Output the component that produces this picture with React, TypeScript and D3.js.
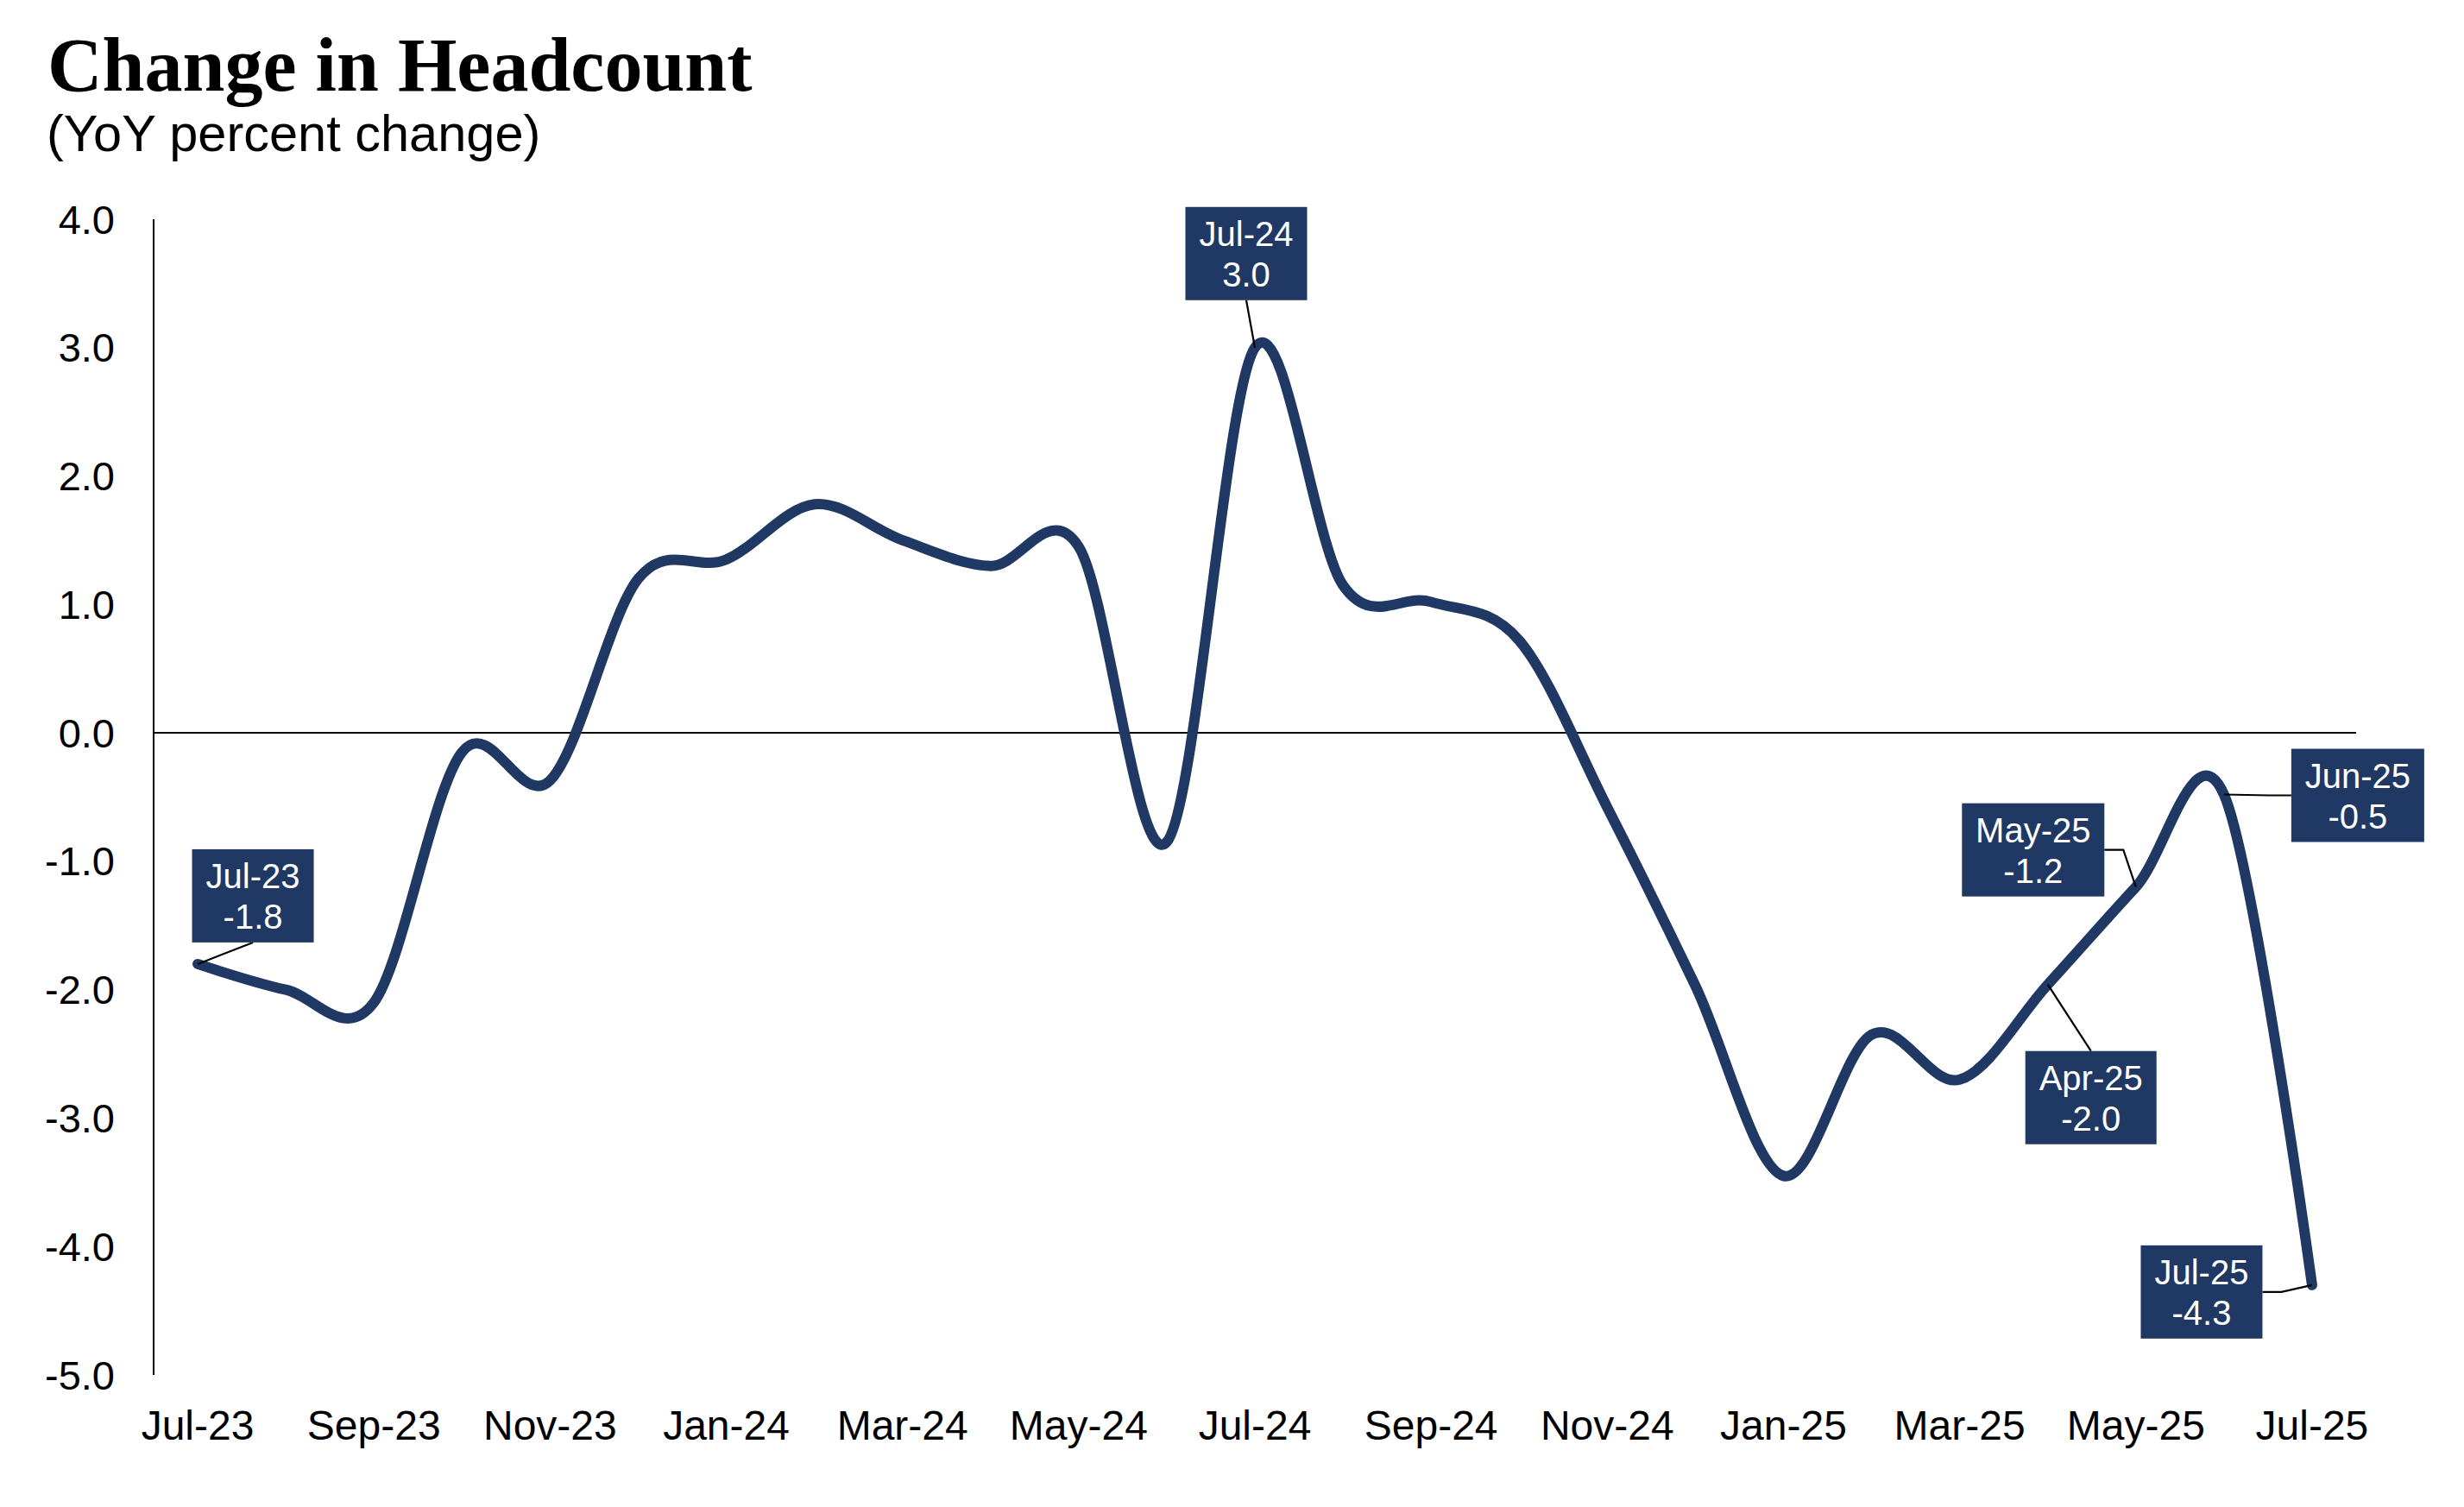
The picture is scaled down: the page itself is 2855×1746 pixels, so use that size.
import React from 'react';
import * as d3 from 'd3';

// ---------- DATA ----------
const months = [
  'Jul-23', 'Aug-23', 'Sep-23', 'Oct-23', 'Nov-23', 'Dec-23',
  'Jan-24', 'Feb-24', 'Mar-24', 'Apr-24', 'May-24', 'Jun-24',
  'Jul-24', 'Aug-24', 'Sep-24', 'Oct-24', 'Nov-24', 'Dec-24',
  'Jan-25', 'Feb-25', 'Mar-25', 'Apr-25', 'May-25', 'Jun-25', 'Jul-25',
];
const values = [
  -1.8, -2.0, -2.1, -0.15, -0.37, 1.2,
  1.35, 1.78, 1.5, 1.3, 1.45, -0.85,
  3.0, 1.15, 1.02, 0.72, -0.58, -1.97,
  -3.45, -2.35, -2.7, -1.96, -1.2, -0.48, -4.3,
];
const yTicks = [4, 3, 2, 1, 0, -1, -2, -3, -4, -5];
const xTickLabels = months.filter((_, i) => i % 2 === 0);
const labeledMonths = ['Jul-23', 'Jul-24', 'Apr-25', 'May-25', 'Jun-25', 'Jul-25'];
const title = 'Change in Headcount';
const subtitle = '(YoY percent change)';

// ---------- LAYOUT ----------
const W = 2855;
const H = 1746;
const plot = { left: 178, right: 2730, top: 254, bottom: 1593 };
const NAVY = '#1F3864';
const SANS = "'Liberation Sans', Arial, Helvetica, sans-serif";
const SERIF = "'Liberation Serif', 'DejaVu Serif', serif";
const labelFont = 40;
const boxH = 108;

type Anchor = 'top' | 'bottom' | 'left' | 'right';
const labelLayout: Record<string, { dx: number; dy: number; anchor: Anchor }> = {
  'Jul-23': { dx: 64, dy: -79, anchor: 'bottom' },
  'Jul-24': { dx: -10, dy: -109, anchor: 'bottom' },
  'Apr-25': { dx: 50, dy: 131, anchor: 'top' },
  'May-25': { dx: -119, dy: -43, anchor: 'right' },
  'Jun-25': { dx: 155, dy: 1, anchor: 'left' },
  'Jul-25': { dx: -128, dy: 8, anchor: 'right' },
};

function measure(text: string, font: string): number {
  if (typeof document === 'undefined') return text.length * 20;
  const c = document.createElement('canvas');
  const ctx = c.getContext('2d');
  if (!ctx) return text.length * 20;
  ctx.font = font;
  return ctx.measureText(text).width;
}

export default function App() {
  const x = d3.scalePoint<string>().domain(months).range([plot.left, plot.right]).padding(0.5);
  const y = d3.scaleLinear().domain([-5, 4]).range([plot.bottom, plot.top]);

  const pts = months.map((m, i) => ({ m, v: values[i] }));
  const line = d3
    .line<{ m: string; v: number }>()
    .x((d) => x(d.m) as number)
    .y((d) => y(d.v))
    .curve(d3.curveCardinal.tension(0));

  const labels = labeledMonths.map((m) => {
    const i = months.indexOf(m);
    const px = x(m) as number;
    const py = y(values[i]);
    const lay = labelLayout[m];
    const l1 = m;
    const l2 = values[i].toFixed(1);
    const tw = Math.max(
      measure(l1, `${labelFont}px 'Liberation Sans'`),
      measure(l2, `${labelFont}px 'Liberation Sans'`)
    );
    const bw = Math.round(tw + 32);
    const cx = px + lay.dx;
    const cy = py + lay.dy;
    const bx = cx - bw / 2;
    const by = cy - boxH / 2;
    let leader: [number, number][] = [];
    if (lay.anchor === 'bottom') leader = [[cx, by + boxH], [px, py]];
    else if (lay.anchor === 'top') leader = [[cx, by], [px, py]];
    else if (lay.anchor === 'right') leader = [[bx + bw, cy], [bx + bw + 22, cy], [px, py]];
    else leader = [[bx, cy], [bx - 26, cy], [px, py]];
    return { m, l1, l2, bx, by, bw, cx, leader };
  });

  return (
    <svg
      width={W}
      height={H}
      viewBox={`0 0 ${W} ${H}`}
      style={{ position: 'absolute', left: 0, top: 0, background: '#fff' }}
    >
      <rect x={0} y={0} width={W} height={H} fill="#fff" />
      <text x={55} y={105} fontFamily={SERIF} fontWeight="bold" fontSize={88} fill="#000">
        {title}
      </text>
      <text x={54} y={175} fontFamily={SANS} fontSize={59.5} fill="#000">
        {subtitle}
      </text>

      {/* y axis */}
      <line x1={plot.left} x2={plot.left} y1={plot.top} y2={plot.bottom} stroke="#000" strokeWidth={2} />
      {yTicks.map((t) => (
        <text
          key={t}
          x={133}
          y={y(t)}
          textAnchor="end"
          dominantBaseline="central"
          fontFamily={SANS}
          fontSize={47}
          fill="#000"
        >
          {t.toFixed(1)}
        </text>
      ))}

      {/* zero line */}
      <line x1={plot.left} x2={plot.right} y1={y(0)} y2={y(0)} stroke="#000" strokeWidth={2} />

      {/* x labels */}
      {xTickLabels.map((m) => (
        <text
          key={m}
          x={x(m) as number}
          y={1668}
          textAnchor="middle"
          fontFamily={SANS}
          fontSize={48}
          fill="#000"
        >
          {m}
        </text>
      ))}

      {/* series */}
      <path
        d={line(pts) || ''}
        fill="none"
        stroke={NAVY}
        strokeWidth={12}
        strokeLinecap="round"
        strokeLinejoin="round"
      />

      {/* data labels */}
      {labels.map((lb) => (
        <g key={lb.m}>
          <polyline
            points={lb.leader.map((p) => p.join(',')).join(' ')}
            fill="none"
            stroke="#000"
            strokeWidth={2.2}
          />
          <rect x={lb.bx} y={lb.by} width={lb.bw} height={boxH} fill={NAVY} />
          <text
            x={lb.cx}
            y={lb.by + 45}
            textAnchor="middle"
            fontFamily={SANS}
            fontSize={labelFont}
            fill="#fff"
          >
            {lb.l1}
          </text>
          <text
            x={lb.cx}
            y={lb.by + 92}
            textAnchor="middle"
            fontFamily={SANS}
            fontSize={labelFont}
            fill="#fff"
          >
            {lb.l2}
          </text>
        </g>
      ))}
    </svg>
  );
}
